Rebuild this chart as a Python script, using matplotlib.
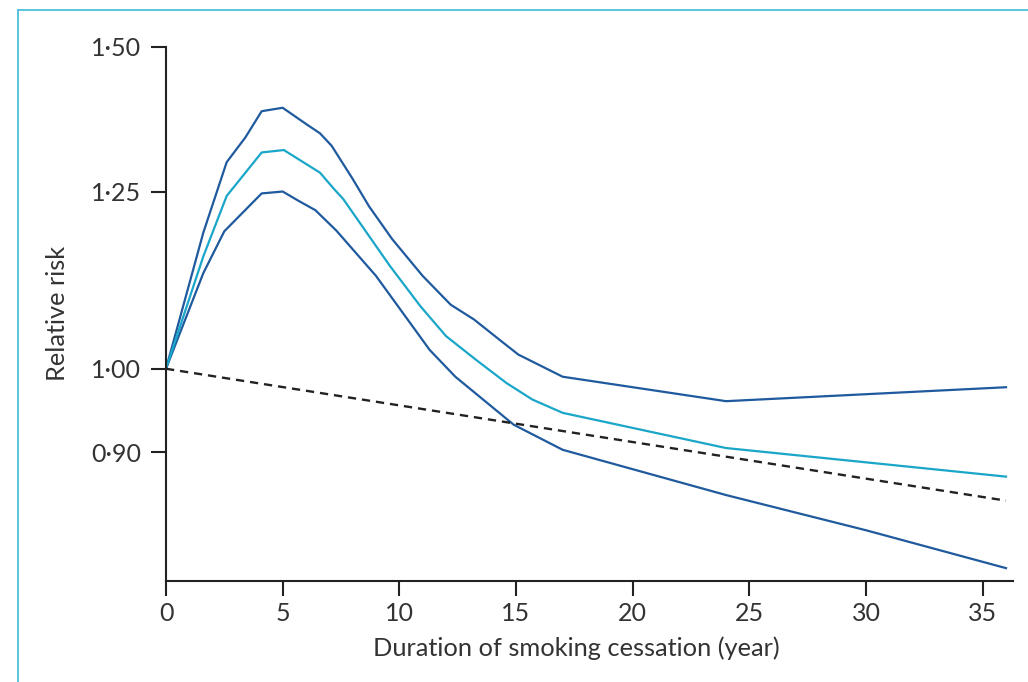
import matplotlib
matplotlib.use("Agg")
import matplotlib.pyplot as plt
from matplotlib.lines import Line2D
from matplotlib.ticker import FixedLocator, NullLocator

plt.rcParams['font.family'] = ['Lato', 'DejaVu Sans']

# Upper confidence limit
upper_t = [0, 1.6, 2.6, 3.4, 4.1, 5.0, 6.0, 6.6, 7.1, 8.0, 8.7, 9.7, 11.0, 12.2, 13.2, 14.3, 15.1, 17.0, 24.0, 36.0]
upper_rr = [1.00, 1.187, 1.297, 1.338, 1.383, 1.389, 1.361, 1.345, 1.324, 1.27, 1.227, 1.177, 1.124, 1.084, 1.064, 1.037, 1.018, 0.990, 0.960, 0.977]

# Point estimate
mid_t = [0, 1.6, 2.6, 4.1, 5.05, 6.6, 7.2, 7.6, 9.6, 10.9, 12.0, 13.3, 14.6, 15.7, 17.0, 24.0, 36.0]
mid_rr = [1.00, 1.152, 1.243, 1.313, 1.317, 1.280, 1.254, 1.238, 1.138, 1.082, 1.042, 1.011, 0.982, 0.962, 0.946, 0.905, 0.873]

# Lower confidence limit
lower_t = [0, 1.6, 2.5, 4.1, 5.0, 5.7, 6.4, 7.3, 9.0, 11.3, 12.4, 14.9, 17.0, 24.0, 30.0, 36.0]
lower_rr = [1.00, 1.128, 1.189, 1.247, 1.250, 1.235, 1.221, 1.190, 1.124, 1.024, 0.990, 0.932, 0.903, 0.853, 0.816, 0.778]

# Reference (dashed) line
ref_t = [0, 36]
ref_rr = [1.00, 0.847]

x_ticks = [0, 5, 10, 15, 20, 25, 30, 35]
y_ticks = [0.90, 1.00, 1.25, 1.50]
y_tick_labels = ["0·90", "1·00", "1·25", "1·50"]

dark_blue = "#1f5a9e"
cyan = "#1aa6c8"

fig = plt.figure(figsize=(10.28, 6.82), dpi=100)
ax = fig.add_axes([166/1028, 1 - 581/682, (1013-166)/1028, (581-46.7)/682])

ax.plot(upper_t, upper_rr, color=dark_blue, lw=1.6)
ax.plot(lower_t, lower_rr, color=dark_blue, lw=1.6)
ax.plot(mid_t, mid_rr, color=cyan, lw=1.6)
ax.plot(ref_t, ref_rr, color="#222222", lw=1.7, linestyle=(0, (3.5, 2.5)))

ax.set_yscale('log')
ax.set_ylim(0.7655, 1.5)
ax.set_xlim(0, 36.3)

ax.yaxis.set_major_locator(FixedLocator(y_ticks))
ax.yaxis.set_minor_locator(NullLocator())
ax.set_yticklabels(y_tick_labels)
ax.set_xticks(x_ticks)
ax.set_xticklabels([str(t) for t in x_ticks])

for s in ['top', 'right']:
    ax.spines[s].set_visible(False)
for s in ['left', 'bottom']:
    ax.spines[s].set_linewidth(1.5)
    ax.spines[s].set_color("#222222")

ax.tick_params(axis='both', which='major', direction='out', length=11, width=1.5,
               color="#222222", labelsize=18, labelcolor="#333333")
ax.tick_params(axis='y', pad=7)
ax.tick_params(axis='x', pad=4)

ax.set_xlabel("Duration of smoking cessation (year)", fontsize=18.3, color="#333333")
ax.xaxis.set_label_coords((576 - 166) / 847, -0.125)
ax.xaxis.label.set_verticalalignment('center')
ax.set_ylabel("Relative risk", fontsize=18.3, color="#333333", labelpad=16)

# Light cyan frame (top and left edges visible)
frame_color = "#4dbfd9"
fig.add_artist(Line2D([17.5/1028, 17.5/1028], [0, 1 - 10/682], transform=fig.transFigure,
                      color=frame_color, lw=1.3))
fig.add_artist(Line2D([17.5/1028, 1], [1 - 10/682, 1 - 10/682], transform=fig.transFigure,
                      color=frame_color, lw=1.3))

fig.savefig("out.png", dpi=100)
